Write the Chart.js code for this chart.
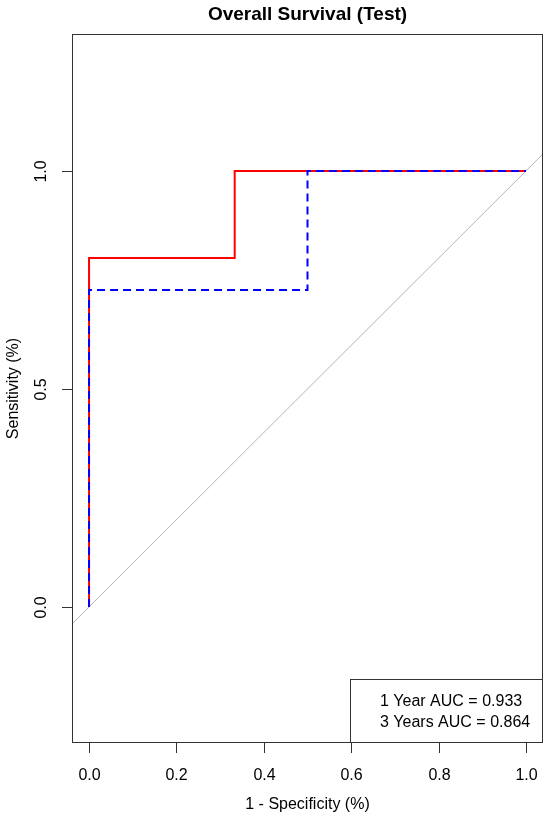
<!DOCTYPE html>
<html>
<head>
<meta charset="utf-8">
<script src="https://cdn.jsdelivr.net/npm/chart.js@4.4.1/dist/chart.umd.min.js"></script>
<style>
    html, body { margin: 0; padding: 0; background: #fff; }
    #wrap { width: 550px; height: 822px; }
</style>
</head>
<body>
<div id="wrap"><canvas id="roc" width="550" height="822"></canvas></div>
<script>
// ROC curves
const fpr1Year = [0, 0, 1 / 3, 1 / 3, 1];
const tpr1Year = [0, 0.8, 0.8, 1, 1];
const fpr3Years = [0, 0, 0.5, 0.5, 1];
const tpr3Years = [0, 0.727, 0.727, 1, 1];

const legendLabels = ['1 Year AUC = 0.933', '3 Years AUC = 0.864'];
const xTicks = [0, 0.2, 0.4, 0.6, 0.8, 1.0];
const yTicks = [0, 0.5, 1.0];
const xRange = [-0.039, 1.039];
const yRange = [-0.312, 1.314];

const FONT = '"Liberation Sans", Arial, Helvetica, sans-serif';

function toPoints(xs, ys) {
    return xs.map((x, i) => ({ x: x, y: ys[i] }));
}

// R-style box, axes, titles and legend
const baseGraphics = {
    id: 'baseGraphics',
    afterDraw(chart) {
        const ctx = chart.ctx;
        const area = chart.chartArea;
        const xs = chart.scales.x;
        const ys = chart.scales.y;

        ctx.save();
        ctx.strokeStyle = '#333';
        ctx.lineWidth = 1;
        ctx.strokeRect(area.left + 0.5, area.top + 0.5, area.right - area.left - 1, area.bottom - area.top - 1);

        ctx.fillStyle = '#000';
        ctx.font = '16px ' + FONT;

        // x axis
        ctx.textAlign = 'center';
        ctx.textBaseline = 'middle';
        xTicks.forEach(v => {
            const px = Math.round(xs.getPixelForValue(v)) + 0.5;
            ctx.beginPath();
            ctx.moveTo(px, area.bottom);
            ctx.lineTo(px, area.bottom + 10);
            ctx.stroke();
            ctx.fillText(v.toFixed(1), px, area.bottom + 33);
        });

        // y axis (labels parallel to axis)
        yTicks.forEach(v => {
            const py = Math.round(ys.getPixelForValue(v)) + 0.5;
            ctx.beginPath();
            ctx.moveTo(area.left, py);
            ctx.lineTo(area.left - 10, py);
            ctx.stroke();
            ctx.save();
            ctx.translate(area.left - 30, py);
            ctx.rotate(-Math.PI / 2);
            ctx.fillText(v.toFixed(1), 0, 0);
            ctx.restore();
        });

        // axis titles
        const midX = (area.left + area.right) / 2;
        const midY = (area.top + area.bottom) / 2;
        ctx.fillText('1 - Specificity (%)', midX, area.bottom + 62);
        ctx.save();
        ctx.translate(14, midY);
        ctx.rotate(-Math.PI / 2);
        ctx.fillText('Sensitivity (%)', 0, 0);
        ctx.restore();

        // main title
        ctx.font = 'bold 19px ' + FONT;
        ctx.fillText('Overall Survival (Test)', midX, 15);

        // legend
        ctx.fillStyle = '#fff';
        ctx.fillRect(350, 679, area.right - 350, area.bottom - 679);
        ctx.strokeRect(350.5, 679.5, area.right - 351, area.bottom - 680);
        ctx.fillStyle = '#000';
        ctx.font = '16px ' + FONT;
        ctx.textAlign = 'left';
        legendLabels.forEach((t, i) => {
            ctx.fillText(t, 380, 702 + i * 21);
        });
        ctx.restore();
    }
};

new Chart(document.getElementById('roc').getContext('2d'), {
    type: 'scatter',
    data: {
        datasets: [
            {
                label: 'reference',
                data: toPoints(xRange, xRange),
                showLine: true,
                borderColor: '#b4b4b4',
                borderWidth: 1,
                pointRadius: 0,
                order: 3
            },
            {
                label: legendLabels[0],
                data: toPoints(fpr1Year, tpr1Year),
                showLine: true,
                borderColor: '#ff0000',
                borderWidth: 2,
                pointRadius: 0,
                tension: 0,
                order: 2
            },
            {
                label: legendLabels[1],
                data: toPoints(fpr3Years, tpr3Years),
                showLine: true,
                borderColor: '#0000ff',
                borderWidth: 2,
                borderDash: [8, 5],
                pointRadius: 0,
                tension: 0,
                order: 1
            }
        ]
    },
    options: {
        responsive: false,
        devicePixelRatio: 1,
        animation: false,
        layout: {
            padding: { left: 72, right: 7, top: 34, bottom: 79 }
        },
        plugins: {
            legend: { display: false },
            title: { display: false },
            tooltip: { enabled: false }
        },
        scales: {
            x: { type: 'linear', display: false, min: xRange[0], max: xRange[1] },
            y: { type: 'linear', display: false, min: yRange[0], max: yRange[1] }
        }
    },
    plugins: [baseGraphics]
});
</script>
</body>
</html>
